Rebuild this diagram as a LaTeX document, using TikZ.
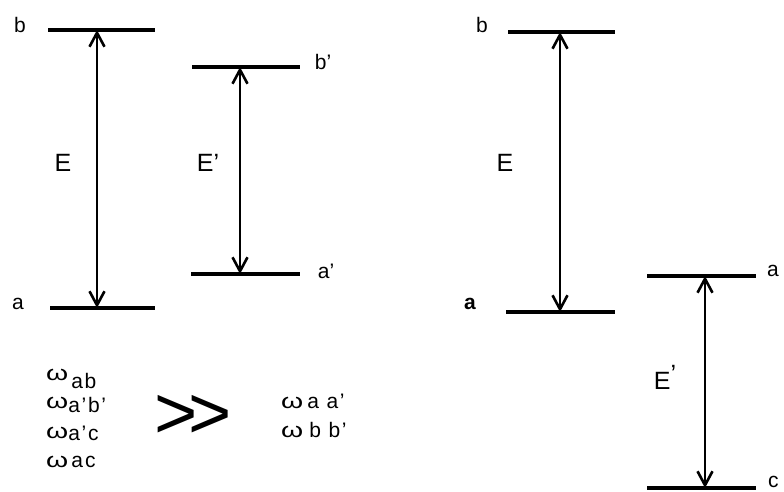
\documentclass[tikz,border=0pt]{standalone}
\usepackage{fontspec}
\setmainfont{Liberation Sans}
\usetikzlibrary{arrows.meta}
\newcommand{\wom}{\scalebox{1.35}[1.0]{ω}}
\begin{document}
\begin{tikzpicture}[x=1pt,y=-1pt,
  level/.style={line width=3.5pt},
  trans/.style={line width=1.4pt,{Straight Barb[length=14pt,width=15pt,line width=2.6pt]}-{Straight Barb[length=14pt,width=15pt,line width=2.6pt]}},
  lbl/.style={font=\fontsize{21}{23}\selectfont,inner sep=0pt},
  elbl/.style={font=\fontsize{25}{27}\selectfont,inner sep=0pt},
  wl/.style={font=\fontsize{21}{24}\selectfont\addfontfeature{LetterSpace=8},inner sep=0pt,anchor=base west}]
\useasboundingbox (0,0) rectangle (784,492);
% left: levels
\coordinate (Lb1) at (48,30);  \coordinate (Lb2) at (155,30);
\coordinate (La1) at (50,308); \coordinate (La2) at (155,308);
\coordinate (Lbp1) at (192,67); \coordinate (Lbp2) at (300,67);
\coordinate (Lap1) at (191,274); \coordinate (Lap2) at (300,274);
\draw[level] (Lb1) -- (Lb2);
\draw[level] (La1) -- (La2);
\draw[level] (Lbp1) -- (Lbp2);
\draw[level] (Lap1) -- (Lap2);
\coordinate (LTb) at (97,30); \coordinate (LTa) at (97,308);
\coordinate (LTbp) at (240,67); \coordinate (LTap) at (240,274);
\draw[trans] (LTa) -- (LTb);
\draw[trans] (LTap) -- (LTbp);
\node[lbl] (lb) at (20,25) {b};
\node[lbl] (la) at (18,304) {a};
\node[elbl] (lE) at (63,163) {E};
\node[elbl] (lEp) at (208,163) {E’};
\node[lbl] (lbp) at (323,62) {b’};
\node[lbl] (lap) at (326,271) {a’};
% right: levels
\coordinate (Rb1) at (508,32);  \coordinate (Rb2) at (615,32);
\coordinate (Ra1) at (506,312); \coordinate (Ra2) at (615,312);
\coordinate (Rap1) at (647,276); \coordinate (Rap2) at (756,276);
\coordinate (Rc1) at (647,488); \coordinate (Rc2) at (756,488);
\draw[level] (Rb1) -- (Rb2);
\draw[level] (Ra1) -- (Ra2);
\draw[level] (Rap1) -- (Rap2);
\draw[level] (Rc1) -- (Rc2);
\coordinate (RTb) at (560,32); \coordinate (RTa) at (560,312);
\coordinate (RTap) at (705,276); \coordinate (RTc) at (705,488);
\draw[trans] (RTa) -- (RTb);
\draw[trans] (RTc) -- (RTap);
\node[lbl] (rb) at (482,25) {b};
\node[lbl,font=\fontsize{21}{23}\selectfont\bfseries] (ra) at (470,304) {a};
\node[elbl] (rE) at (505,163) {E};
\node[elbl] (rEp) at (665,377) {E\raisebox{7pt}{’}};
\node[lbl,anchor=west] (rap) at (767,271) {a};
\node[lbl,anchor=west] (rc) at (768,482) {c};
% bottom text
\node[wl] (w1) at (46,380) {\wom\kern3pt\raisebox{-8pt}{ab}};
\node[wl] (w2) at (46,408) {\wom\raisebox{-4pt}{a’b’}};
\node[wl] (w3) at (46,438) {\wom\raisebox{-2pt}{a’c}};
\node[wl] (w4) at (46,467) {\wom\kern3pt a\kern2pt c};
\node[inner sep=0pt,font=\fontsize{74}{80}\selectfont] (gg) at (193,417) {>\kern-9pt>};
\node[wl] (w5) at (281,408) {\wom\kern4pt a a’};
\node[wl] (w6) at (281,437) {\wom\kern6pt b b’};
\end{tikzpicture}
\end{document}
